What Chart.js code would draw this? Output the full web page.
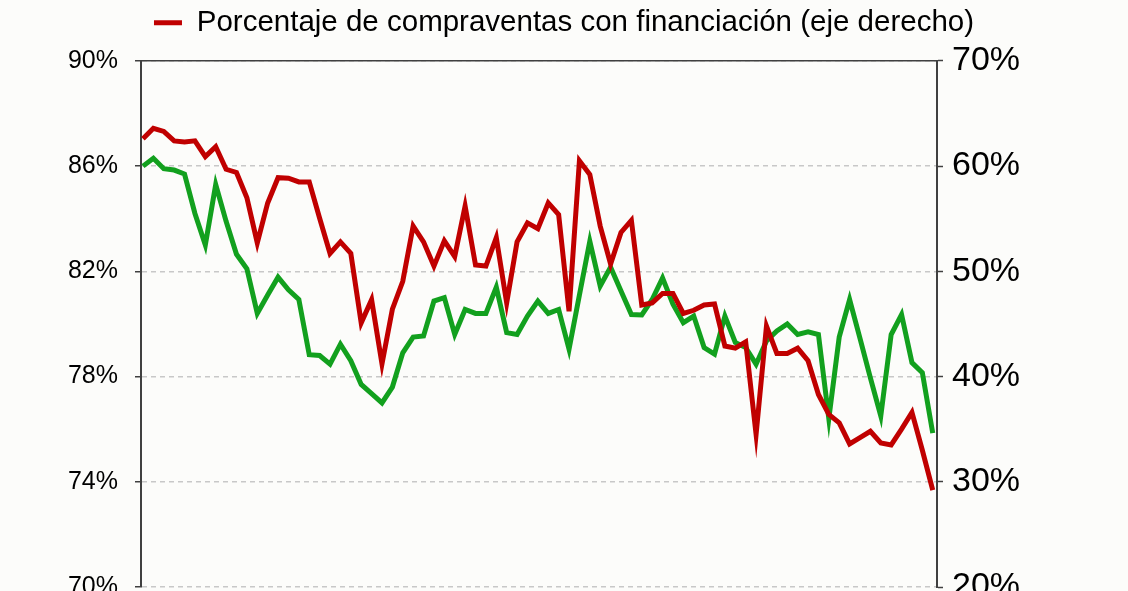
<!DOCTYPE html>
<html>
<head>
<meta charset="utf-8">
<script src="https://cdn.jsdelivr.net/npm/chart.js@4"></script>
<style>
  html, body { margin: 0; padding: 0; background: #fcfcfa; overflow: hidden; }
  #wrap { width: 1128px; height: 650px; }
</style>
</head>
<body>
<div id="wrap"><canvas id="chart" width="1128" height="650"></canvas></div>
<script>
// 77 periodos (sin etiquetas visibles en el recorte)
const periods = Array.from({ length: 77 }, (_, i) => i);

// eje izquierdo (verde)
const greenSeries = [
  86.0, 86.3, 85.9, 85.85, 85.7, 84.2, 83.0, 85.3, 83.9, 82.65,
  82.1, 80.4, 81.1, 81.78, 81.3, 80.93, 78.83, 78.8, 78.47, 79.23,
  78.6, 77.7, 77.35, 77.0, 77.6, 78.9, 79.5, 79.54, 80.87, 81.0,
  79.6, 80.55, 80.4, 80.4, 81.4, 79.67, 79.6, 80.3, 80.87, 80.4,
  80.55, 79.04, 81.1, 83.14, 81.44, 82.16, 81.25, 80.36, 80.34, 80.93,
  81.75, 80.75, 80.05, 80.3, 79.1, 78.85, 80.3, 79.3, 79.1, 78.47,
  79.35, 79.73, 80.0, 79.6, 79.7, 79.6, 76.4, 79.5, 80.93, 79.45,
  77.95, 76.5, 79.6, 80.36, 78.53, 78.15, 75.85
];

// eje derecho (rojo)
const redSeries = [
  62.6, 63.6, 63.3, 62.4, 62.3, 62.4, 60.9, 61.85, 59.7, 59.4,
  57.0, 52.7, 56.5, 58.9, 58.85, 58.5, 58.5, 55.05, 51.7, 52.8,
  51.7, 45.1, 47.3, 41.2, 46.4, 49.05, 54.3, 52.8, 50.5, 52.9,
  51.4, 56.2, 50.6, 50.5, 53.2, 47.0, 52.8, 54.6, 54.05, 56.5,
  55.4, 46.2, 60.5, 59.2, 54.3, 50.7, 53.7, 54.85, 46.8, 47.0,
  47.9, 47.9, 46.0, 46.3, 46.8, 46.9, 42.9, 42.7, 43.3, 34.5,
  44.8, 42.2, 42.2, 42.7, 41.5, 38.3, 36.4, 35.6, 33.6, 34.2,
  34.8, 33.7, 33.5, 35.0, 36.6, 33.0, 29.2
];

const redLabel = "Porcentaje de compraventas con financiación (eje derecho)";
const greenLabel = "Eje izquierdo";

const axisColor = "#404040";
Chart.defaults.font.family = "'Liberation Sans', Arial, sans-serif";
Chart.defaults.color = "#000";

const toPoints = (arr) => arr.map((v, i) => ({ x: periods[i], y: v }));

new Chart(document.getElementById("chart"), {
  type: "line",
  data: {
    datasets: [
      {
        label: redLabel,
        data: toPoints(redSeries),
        yAxisID: "y2",
        borderColor: "#c00000",
        backgroundColor: "#c00000",
        borderWidth: 5,
        pointRadius: 0,
        tension: 0
      },
      {
        label: greenLabel,
        data: toPoints(greenSeries),
        yAxisID: "y",
        borderColor: "#12a01e",
        backgroundColor: "#12a01e",
        borderWidth: 5,
        pointRadius: 0,
        tension: 0
      }
    ]
  },
  options: {
    responsive: false,
    animation: false,
    devicePixelRatio: 1,
    layout: { padding: { top: 2 } },
    plugins: {
      tooltip: { enabled: false },
      legend: {
        position: "top",
        labels: {
          filter: (item) => item.datasetIndex === 0,
          usePointStyle: true,
          pointStyle: "line",
          pointStyleWidth: 28,
          font: { size: 29.5 },
          color: "#000",
          padding: 6
        }
      }
    },
    scales: {
      x: {
        type: "linear",
        min: -0.19,
        max: 76.41,
        grid: { display: false },
        border: { display: false },
        ticks: { display: false },
        afterFit: (s) => { s.height = 63; }
      },
      xTop: {
        type: "linear",
        position: "top",
        min: -0.19,
        max: 76.41,
        grid: { display: false },
        border: { display: true, color: axisColor, width: 1.5 },
        ticks: { display: false },
        afterFit: (s) => { s.height = 13.4; }
      },
      y: {
        position: "left",
        min: 70,
        max: 90,
        ticks: {
          stepSize: 4,
          padding: 17,
          font: { size: 25 },
          color: "#000",
          callback: (v) => v + "%"
        },
        grid: {
          color: "#c8c8c8",
          lineWidth: 1.5,
          tickColor: axisColor,
          tickLength: 6,
          tickWidth: 1.5,
          tickBorderDash: []
        },
        border: { display: true, color: axisColor, width: 2, dash: [5, 4] },
        afterFit: (s) => { s.width = 141; }
      },
      y2: {
        position: "right",
        min: 20,
        max: 70,
        ticks: {
          stepSize: 10,
          padding: 9,
          font: { size: 34 },
          color: "#000",
          callback: (v) => v + "%"
        },
        grid: {
          drawOnChartArea: false,
          tickColor: axisColor,
          tickLength: 6,
          tickWidth: 1.5
        },
        border: { display: true, color: axisColor, width: 2 },
        afterFit: (s) => { s.width = 191; }
      }
    }
  }
});
</script>
</body>
</html>
